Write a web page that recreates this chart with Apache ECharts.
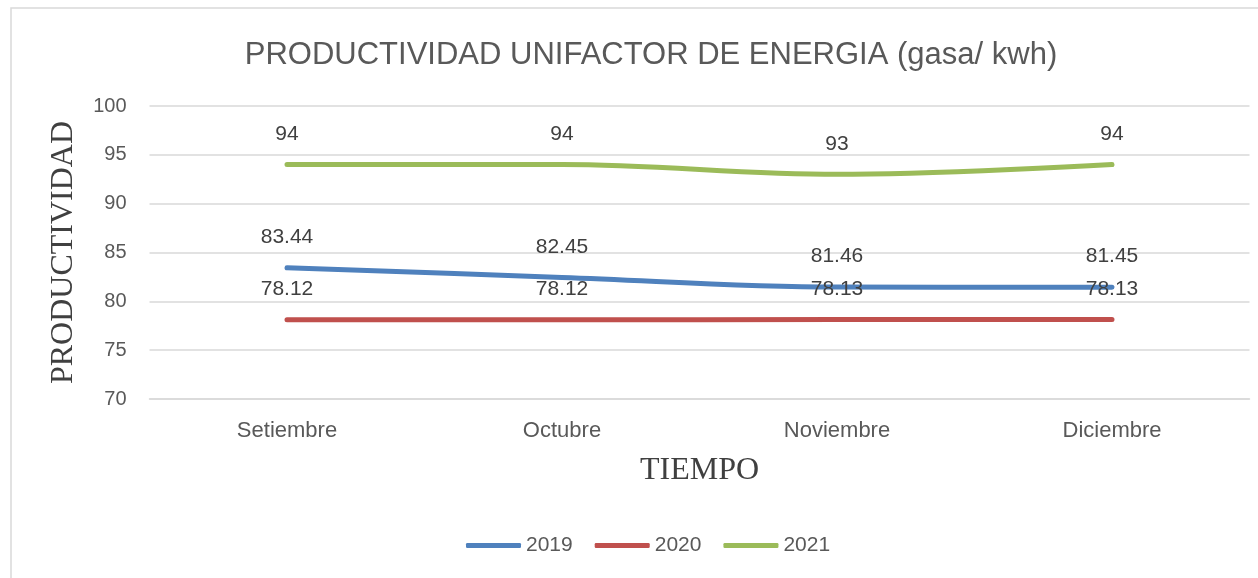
<!DOCTYPE html>
<html>
<head>
<meta charset="utf-8">
<script src="https://cdn.jsdelivr.net/npm/echarts@6/dist/echarts.min.js"></script>
<style>
  html, body { margin: 0; padding: 0; background: #fff; }
  #chart { width: 1258px; height: 578px; }
</style>
</head>
<body>
<div id="chart"></div>
<script>
  // datos
  let meses = ['Setiembre', 'Octubre', 'Noviembre', 'Diciembre'];
  let anios = ['2019', '2020', '2021'];
  let datos2019 = [83.44, 82.45, 81.46, 81.45];
  let datos2020 = [78.12, 78.12, 78.13, 78.13];
  let datos2021 = [94, 94, 93, 94];
  let colores = ['#4F81BD', '#C0504D', '#9BBB59'];

  let chart = echarts.init(document.getElementById('chart'));
  let fuente = '"Liberation Sans", sans-serif';
  let serif = '"Liberation Serif", serif';

  function serie(nombre, valores, color) {
    return {
      name: nombre,
      type: 'line',
      data: valores,
      smooth: 0.35,
      symbol: 'circle',
      symbolSize: 0,
      showSymbol: true,
      lineStyle: { width: 5, color: color, cap: 'round' },
      itemStyle: { color: color },
      label: {
        show: true,
        position: 'top',
        distance: 20,
        color: '#404040',
        fontSize: 21,
        fontFamily: fuente
      }
    };
  }

  let option = {
    graphic: [{
      type: 'rect',
      shape: { x: 11, y: 8, width: 1260, height: 590 },
      style: { fill: 'none', stroke: '#D9D9D9', lineWidth: 1.5 },
      silent: true
    }],
    title: {
      text: 'PRODUCTIVIDAD UNIFACTOR DE ENERGIA (gasa/ kwh)',
      left: 646,
      textAlign: 'center',
      top: 35,
      textStyle: { color: '#595959', fontSize: 31, fontWeight: 'normal', fontFamily: fuente }
    },
    legend: {
      data: anios,
      bottom: 17,
      left: 461,
      itemWidth: 55,
      itemHeight: 5,
      itemGap: 22,
      icon: 'roundRect',
      textStyle: { color: '#595959', fontSize: 21, fontFamily: fuente }
    },
    grid: { left: 149.5, right: 8.5, top: 106, bottom: 179 },
    xAxis: {
      type: 'category',
      data: meses,
      name: 'TIEMPO',
      nameLocation: 'middle',
      nameGap: 56,
      nameTextStyle: { fontFamily: serif, fontSize: 32, color: '#404040' },
      axisLine: { lineStyle: { color: '#D9D9D9', width: 1.5 } },
      axisTick: { show: false },
      axisLabel: { color: '#595959', fontSize: 22, margin: 21, fontFamily: fuente }
    },
    yAxis: {
      type: 'value',
      min: 70,
      max: 100,
      interval: 5,
      name: 'PRODUCTIVIDAD',
      nameLocation: 'middle',
      nameGap: 70,
      nameTextStyle: { fontFamily: serif, fontSize: 32, color: '#404040' },
      axisLine: { show: false },
      axisTick: { show: false },
      splitLine: { lineStyle: { color: '#D9D9D9', width: 1.5 } },
      axisLabel: { color: '#595959', fontSize: 20, margin: 23, fontFamily: fuente }
    },
    series: [
      serie(anios[0], datos2019, colores[0]),
      serie(anios[1], datos2020, colores[1]),
      serie(anios[2], datos2021, colores[2])
    ]
  };

  chart.setOption(option);
</script>
</body>
</html>
